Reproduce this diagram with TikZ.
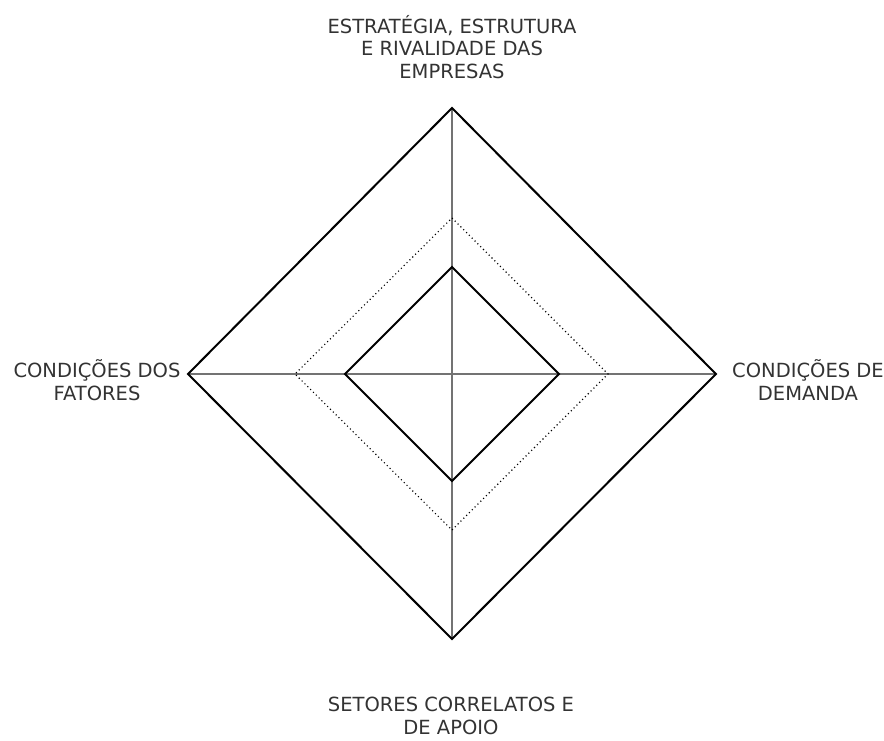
\documentclass[tikz,border=0pt]{standalone}
\usepackage{fontspec}
\setmainfont{DejaVu Sans}
\begin{document}
\begin{tikzpicture}[x=1pt,y=1pt]
			\useasboundingbox (-452,-366) rectangle (432,374);
			\tikzset{lbl/.style={align=center,text=black!80,font=\fontsize{19.5}{22.5}\selectfont}}
			\coordinate (T) at (0,266);
			\coordinate (R) at (264,0);
			\coordinate (B) at (0,-265);
			\coordinate (L) at (-264,0);
			\coordinate (Tp) at (0,156);
			\coordinate (Rp) at (156,0);
			\coordinate (Bp) at (0,-156);
			\coordinate (Lp) at (-157,0);
			\coordinate (Ti) at (0,107);
			\coordinate (Ri) at (107,0);
			\coordinate (Bi) at (0,-107);
			\coordinate (Li) at (-107,0);
			\draw [line width=1.5,black!55] (T) to (B);
			\draw [line width=1.5,black!55] (L) to (R);
			\draw [line width=2,line join=miter] (T) to (R) to (B) to (L) to cycle;
			\draw [line width=1.1,dash pattern=on 1.1pt off 2.9pt] (Tp) to (Rp) to (Bp) to (Lp) to cycle;
			\draw [line width=2,line join=miter] (Ti) to (Ri) to (Bi) to (Li) to cycle;
			\node [lbl] (estrategia) at (0,327) {ESTRATÉGIA, ESTRUTURA\\E RIVALIDADE DAS\\EMPRESAS};
			\node [lbl] (fatores) at (-355,-6) {CONDIÇÕES DOS\\FATORES};
			\node [lbl] (demanda) at (356,-6) {CONDIÇÕES DE\\DEMANDA};
			\node [lbl] (setores) at (-1,-342) {SETORES CORRELATOS E\\DE APOIO};
		\end{tikzpicture}
\end{document}
